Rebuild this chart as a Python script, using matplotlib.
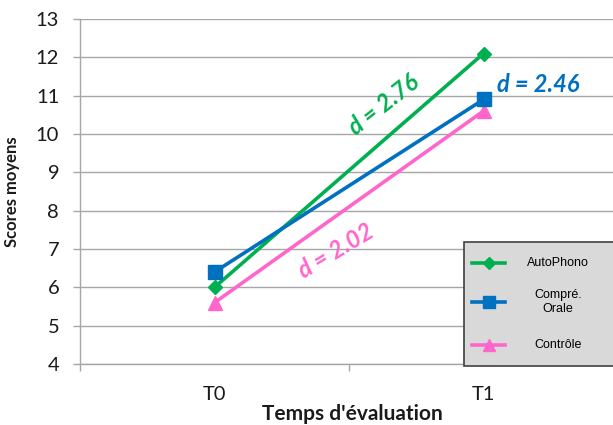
import matplotlib.pyplot as plt
from matplotlib.lines import Line2D
from matplotlib.patches import Rectangle

plt.rcParams['font.family'] = ['Lato', 'DejaVu Sans']

# data
temps = ['T0', 'T1']
autophono = [6.0, 12.1]
compre_orale = [6.4, 10.9]
controle = [5.6, 10.6]
series_names = ['AutoPhono', 'Compré.\nOrale', 'Contrôle']
effect_labels = ['d = 2.76', 'd = 2.46', 'd = 2.02']

green = '#00B050'
blue = '#0070C0'
pink = '#FF66CC'
grid_grey = '#A6A6A6'

fig = plt.figure(figsize=(6.13, 4.25), dpi=100)
ax = fig.add_axes([80 / 613, 1 - 364 / 425, 538 / 613, 345 / 425])

x = list(range(len(temps)))
ax.plot(x, autophono, color=green, lw=2.6, marker='D', ms=7, zorder=4)
ax.plot(x, compre_orale, color=blue, lw=2.6, marker='s', ms=10, zorder=4)
ax.plot(x, controle, color=pink, lw=2.6, marker='^', ms=10, zorder=3)

ax.set_ylim(4, 13)
ax.set_yticks(range(4, 14))
ax.set_xlim(-0.5, 1.5)
ax.set_xticks(x)
ax.set_xticklabels(temps)
ax.set_xticks([-0.5, 0.5, 1.5], minor=True)
ax.yaxis.grid(True, color=grid_grey, lw=1)
ax.set_axisbelow(True)

for s in ['top', 'right']:
    ax.spines[s].set_visible(False)
for s in ['left', 'bottom']:
    ax.spines[s].set_color(grid_grey)
    ax.spines[s].set_linewidth(1)

ax.tick_params(axis='y', length=5, width=1, color=grid_grey, pad=10,
               labelsize=14.5, labelcolor='#1a1a1a')
ax.tick_params(axis='x', which='major', length=0, pad=16, labelsize=14.5,
               labelcolor='#1a1a1a')
ax.tick_params(axis='x', which='minor', length=5, width=1, color=grid_grey)

ax.set_ylabel('Scores moyens', fontsize=12, fontweight='bold', color='#1a1a1a')
ax.yaxis.set_label_coords(-60 / 538, 0.5)
fig.text(352 / 613, 1 - 414 / 425, "Temps d'évaluation", fontsize=15,
         fontweight='bold', color='#1a1a1a', ha='center', va='center')

# effect sizes
ax.text(0.63, 10.76, effect_labels[0], color=green, fontsize=17, fontweight='bold',
        style='italic', rotation=38, ha='center', va='center')
ax.text(1.05, 11.3, effect_labels[1], color=blue, fontsize=17, fontweight='bold',
        style='italic', rotation=0, ha='left', va='center')
ax.text(0.452, 6.95, effect_labels[2], color=pink, fontsize=17, fontweight='bold',
        style='italic', rotation=31, ha='center', va='center')

# legend box
fig.add_artist(Rectangle((464 / 613, 1 - 366 / 425), 160 / 613, 124 / 425,
                         transform=fig.transFigure, facecolor='#D9D9D9',
                         edgecolor='#404040', lw=1.2, zorder=5))
styles = [(green, 'D', 6), (blue, 's', 9), (pink, '^', 9)]
rows_y = [263, 302, 345]
for (c, m, ms), name, yy in zip(styles, series_names, rows_y):
    fy = 1 - yy / 425
    fig.add_artist(Line2D([472 / 613, 505 / 613], [fy, fy], transform=fig.transFigure,
                          color=c, lw=2.6, zorder=6))
    fig.add_artist(Line2D([488.5 / 613], [fy], transform=fig.transFigure,
                          color=c, marker=m, ms=ms, zorder=7))
    fig.text(558 / 613, fy, name, fontsize=9, family='Liberation Sans', ha='center',
             va='center', multialignment='center', zorder=7)

fig.savefig('out.png', dpi=100)
